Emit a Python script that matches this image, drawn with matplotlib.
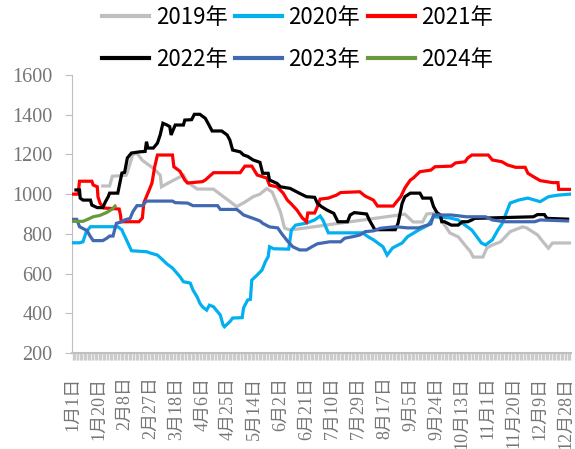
import matplotlib
matplotlib.use('Agg')
import matplotlib.pyplot as plt
from matplotlib.ticker import MultipleLocator

# 年份与颜色
years = ['2019年', '2020年', '2021年', '2022年', '2023年', '2024年']
colors = ['#BFBFBF', '#00B0F0', '#FF0000', '#000000', '#4169B2', '#689A3D']

# 横轴刻度（每19天一个标签）
tick_days = [0, 19, 38, 57, 76, 95, 114, 133, 152, 171, 190, 209, 228, 247, 266, 285, 304, 323, 342, 361]
tick_labels = ['1月1日', '1月20日', '2月8日', '2月27日', '3月18日', '4月6日', '4月25日', '5月14日',
               '6月2日', '6月21日', '7月10日', '7月29日', '8月17日', '9月5日', '9月24日', '10月13日',
               '11月1日', '11月20日', '12月9日', '12月28日']

# 各年数据：天数（从1月1日起）与价格
d2019 = [22, 27, 29, 39, 40, 44, 47, 51, 59, 64, 65, 71, 81, 84, 91, 103, 120, 126, 132, 137,
         142, 146, 149, 152, 155, 159, 243, 249, 256, 259, 266, 271, 276, 282, 287, 291, 293, 300, 303, 307,
         313, 320, 329, 332, 340, 344, 348, 351, 364]
v2019 = [1041, 1041, 1090, 1095, 1110, 1200, 1205, 1170, 1130, 1096, 1037, 1060, 1096, 1060, 1026, 1025, 937, 960, 987, 1000,
         1028, 1010, 960, 910, 829, 819, 899, 860, 860, 900, 905, 855, 804, 785, 743, 710, 683, 683, 729, 744,
         760, 811, 835, 830, 795, 760, 728, 754, 754]

d2020 = [0, 5, 7.5, 10, 13, 33, 36, 37, 40, 43, 54, 57, 62, 66, 69, 73, 78.5, 81, 86, 88,
         91, 93, 95, 98, 100, 103, 106, 108, 110, 111, 115, 117, 124, 125, 128, 130, 131, 135, 138.5, 141,
         143, 144, 147, 158, 160, 163, 171, 177, 181, 183, 187, 212, 216, 220, 227, 230, 234, 237, 241, 245,
         253, 260, 264, 276, 282, 287, 292, 299, 302, 307, 311, 314, 320, 326, 333, 338, 342, 348, 355, 364]
v2020 = [755, 755, 760, 811, 836, 836, 820, 804, 760, 715, 710, 703, 693, 668, 648, 628, 584, 559, 552, 517,
         483, 451, 432, 416, 441, 433, 408, 391, 341, 332, 358, 376, 378, 427, 467, 470, 567, 593, 618, 660,
         685, 735, 725, 723, 819, 844, 854, 870, 890, 870, 805, 805, 786, 770, 735, 693, 729, 740, 754, 786,
         819, 844, 886, 880, 870, 844, 819, 754, 744, 770, 819, 850, 955, 970, 980, 970, 962, 987, 995, 1000]

d2021 = [0, 4, 5, 14, 15, 18, 18.5, 20, 22, 23, 34, 35, 35.5, 48.5, 51, 52, 55, 56, 58, 60,
         62, 73, 74, 78.5, 82, 84, 95, 97, 103, 122.5, 126, 131, 135, 142, 144, 149.5, 154, 157, 160, 164,
         168, 171, 172, 177, 179, 181, 187, 193, 196, 210, 214, 220, 223, 234.5, 237, 240, 243, 247, 249, 254,
         262, 265, 277, 280, 287, 289, 292, 304, 307, 314, 318, 324, 331, 333, 337, 342, 351, 355, 355.5, 364]
v2021 = [1000, 1000, 1065, 1065, 1046, 1037, 987, 955, 935, 930, 925, 895, 861, 861, 880, 955, 1005, 1021, 1056, 1138,
         1197, 1197, 1138, 1115, 1071, 1056, 1063, 1071, 1108, 1108, 1141, 1141, 1096, 1081, 1045, 1037, 1005, 970, 950, 920,
         880, 861, 905, 905, 937, 975, 980, 995, 1008, 1012, 990, 970, 940, 940, 962, 987, 1031, 1071, 1080, 1113,
         1121, 1138, 1141, 1157, 1163, 1182, 1197, 1197, 1172, 1163, 1147, 1135, 1135, 1105, 1088, 1068, 1058, 1058, 1024, 1024]

d2022 = [2.4, 5, 5.5, 7.5, 13, 14, 18, 22, 24, 26, 27, 33, 36, 38, 40, 43, 49, 53, 54, 55,
         59, 62, 64, 66, 69, 71, 72, 75, 81, 82, 87, 89, 93, 97, 99, 102, 109, 113, 115, 117,
         122.5, 125, 128, 132, 137, 139, 143, 144, 149.5, 152, 159, 166, 171, 177, 179, 182, 186, 191, 194, 201,
         203, 206, 215, 217, 221, 236, 238, 241, 243, 247, 254, 256, 262, 264, 266.5, 269, 270, 272, 277, 282,
         285, 289, 292, 294, 337, 340, 345, 347, 362]
v2022 = [1021, 1021, 980, 970, 970, 945, 932, 932, 962, 987, 1005, 1005, 1106, 1110, 1182, 1207, 1213, 1215, 1264, 1232,
         1232, 1257, 1298, 1357, 1348, 1340, 1298, 1348, 1348, 1373, 1375, 1402, 1402, 1382, 1357, 1318, 1318, 1298, 1272, 1222,
         1213, 1197, 1190, 1172, 1160, 1105, 1105, 1071, 1054, 1037, 1029, 1004, 987, 984, 954, 937, 920, 903, 861, 861,
         895, 907, 900, 870, 821, 821, 853, 954, 987, 1005, 1005, 980, 980, 937, 907, 895, 861, 861, 844, 844,
         861, 861, 870, 878, 886, 897, 897, 878, 874]

d2023 = [0, 3, 5, 10.5, 13, 15, 22, 25, 27, 29.5, 31, 32, 36, 38, 42, 44, 47, 51, 54, 73,
         75, 84, 88, 106, 108, 120, 122.5, 125, 132, 137, 139, 144, 150, 153, 157, 161, 166, 171, 175, 179,
         188, 196, 199, 205, 210, 214, 220, 225, 236, 245, 253, 262, 264, 277, 288, 302, 307, 316, 338, 342, 362]
v2023 = [873, 873, 836, 816, 786, 766, 766, 778, 789, 789, 828, 853, 861, 870, 878, 911, 942, 942, 965, 965,
         957, 955, 942, 942, 923, 923, 910, 895, 878, 865, 853, 835, 830, 800, 765, 735, 719, 719, 735, 750,
         760, 760, 778, 786, 794, 811, 815, 828, 836, 830, 830, 850, 895, 895, 886, 886, 870, 861, 861, 870, 865]

d2024 = [0, 7.5, 11, 15, 20, 25, 29, 31]
v2024 = [863, 863, 873, 886, 893, 908, 925, 940]

series_days = [d2019, d2020, d2021, d2022, d2023, d2024]
series_vals = [v2019, v2020, v2021, v2022, v2023, v2024]

fig = plt.figure(figsize=(5.75, 4.49), dpi=100)
ax = fig.add_axes([0.1252, 0.2138, 0.8678, 0.6192])

lines = []
for i in range(len(years)):
    ln, = ax.plot(series_days[i], series_vals[i], color=colors[i], lw=2.3,
                  solid_joinstyle='miter', label=years[i], zorder=2 + i)
    lines.append(ln)

ax.set_xlim(-0.5, 364.5)
ax.set_ylim(200, 1600)
ax.yaxis.set_major_locator(MultipleLocator(200))

for s in ['top', 'right']:
    ax.spines[s].set_visible(False)
ax.spines['left'].set_color('#BFBFBF')
ax.spines['bottom'].set_color('#BFBFBF')
ax.spines['bottom'].set_linewidth(1.5)

ax.tick_params(axis='y', direction='out', length=5, color='#BFBFBF', pad=9,
               labelsize=14.5, labelcolor='#767676')
for lab in ax.get_yticklabels():
    lab.set_family('Liberation Serif')

ax.set_xticks(tick_days)
ax.set_xticklabels(tick_labels, rotation=90, family=['Liberation Serif', 'Noto Sans CJK SC'],
                   fontsize=13, color='#767676')
ax.set_xticks(range(0, 365), minor=True)
ax.tick_params(axis='x', which='both', direction='out', length=5, color='#CCCCCC', width=1.0, pad=12)

# 图例：两行三列
order = [0, 3, 1, 4, 2, 5]
leg = fig.legend([lines[k] for k in order], [years[k] for k in order], ncol=3,
                 loc='center', bbox_to_anchor=(0.518, 0.914), frameon=False,
                 prop={'family': ['Noto Sans CJK SC', 'DejaVu Sans'], 'size': 16},
                 handlelength=2.1, handletextpad=0.3, columnspacing=0.35, labelspacing=0.85,
                 borderpad=0)
for h in leg.get_lines():
    h.set_linewidth(3)

fig.savefig('out.png', dpi=100)
